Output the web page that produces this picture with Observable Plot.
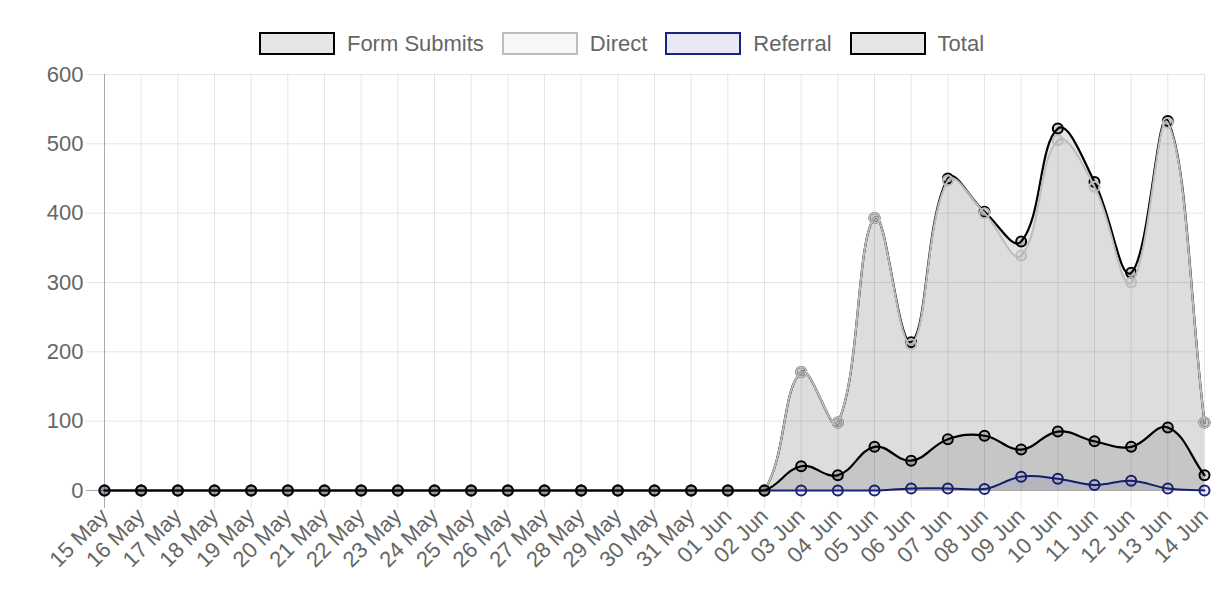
<!DOCTYPE html>
<html><head><meta charset="utf-8">
<script src="https://cdn.jsdelivr.net/npm/d3@7"></script>
<script src="https://cdn.jsdelivr.net/npm/@observablehq/plot@0.6"></script>
<style>
body{margin:0;background:#fff;font-family:"Liberation Sans",Arial,sans-serif;}
#legend{height:60px;display:flex;justify-content:center;align-items:flex-start;padding-left:32px;box-sizing:border-box;padding-top:32px;}
.item{display:flex;align-items:center;margin-right:18px;color:#666;font-size:22px;line-height:23px;white-space:nowrap}
.box{width:76px;height:23px;box-sizing:border-box;border:2px solid;margin-right:12px}
#chart svg{display:block}
</style></head><body>
<div id="legend"></div><div id="chart"></div>
<script>
const dates = ["15 May","16 May","17 May","18 May","19 May","20 May","21 May","22 May","23 May","24 May","25 May","26 May","27 May","28 May","29 May","30 May","31 May","01 Jun","02 Jun","03 Jun","04 Jun","05 Jun","06 Jun","07 Jun","08 Jun","09 Jun","10 Jun","11 Jun","12 Jun","13 Jun","14 Jun"];
const formSubmits = [0,0,0,0,0,0,0,0,0,0,0,0,0,0,0,0,0,0,0,35,22,63,43,74,79,59,85,71,63,91,22];
const direct      = [0,0,0,0,0,0,0,0,0,0,0,0,0,0,0,0,0,0,0,171,98,393,211,447,400,339,505,438,300,530,98];
const referral    = [0,0,0,0,0,0,0,0,0,0,0,0,0,0,0,0,0,0,0,0,0,0,3,3,2,20,17,8,14,3,0];
const total       = [0,0,0,0,0,0,0,0,0,0,0,0,0,0,0,0,0,0,0,171,98,393,214,450,402,359,522,445,314,533,98];
const seriesNames = ["Form Submits","Direct","Referral","Total"];
const borderColors = ["#000000","#bdbdbd","#1a237e","#000000"];
const fillColors = ["rgba(0,0,0,0.1)","rgba(0,0,0,0.03)","rgba(26,35,126,0.1)","rgba(0,0,0,0.1)"];
const pointFills = ["rgba(0,0,0,0.18)","rgba(0,0,0,0.03)","rgba(26,35,126,0.06)","rgba(0,0,0,0.18)"];
const lineWidths = [2.2, 2, 2, 2.2];
const yTicks = [0,100,200,300,400,500,600];

const seriesValues = [formSubmits, direct, referral, total];

// legend
const legend = document.getElementById("legend");
seriesNames.forEach((name, i) => {
  const item = document.createElement("div");
  item.className = "item";
  const box = document.createElement("div");
  box.className = "box";
  box.style.borderColor = borderColors[i];
  box.style.background = fillColors[i];
  const label = document.createElement("span");
  label.textContent = name;
  item.appendChild(box); item.appendChild(label);
  legend.appendChild(item);
});

const W = 1229, H = 533;
const mL = 104, mR = 25, mT = 14, mB = 103;

// Chart.js-like spline (tension 0.4, control points capped to chart area)
const tension = 0.4;
function chartjsCurve(context) {
  let pts = [];
  return {
    _line: NaN,
    areaStart() { this._line = 0; },
    areaEnd() { this._line = NaN; },
    lineStart() { pts = []; },
    point(x, y) { pts.push([+x, +y]); },
    lineEnd() {
      const n = pts.length;
      if (n) {
        const cap = (p) => [Math.max(mL, Math.min(W - mR, p[0])), Math.max(mT, Math.min(H - mB, p[1]))];
        const cps = pts.map((p, i) => {
          const prev = pts[Math.max(0, i - 1)], next = pts[Math.min(n - 1, i + 1)];
          const d01 = Math.hypot(p[0] - prev[0], p[1] - prev[1]);
          const d12 = Math.hypot(next[0] - p[0], next[1] - p[1]);
          let s01 = d01 / (d01 + d12), s12 = d12 / (d01 + d12);
          if (!isFinite(s01)) s01 = 0;
          if (!isFinite(s12)) s12 = 0;
          const fa = tension * s01, fb = tension * s12;
          return {
            a: cap([p[0] - fa * (next[0] - prev[0]), p[1] - fa * (next[1] - prev[1])]),
            b: cap([p[0] + fb * (next[0] - prev[0]), p[1] + fb * (next[1] - prev[1])])
          };
        });
        if (this._line) context.lineTo(pts[0][0], pts[0][1]);
        else context.moveTo(pts[0][0], pts[0][1]);
        for (let i = 1; i < n; i++) {
          const c1 = cps[i - 1].b, c2 = cps[i].a;
          context.bezierCurveTo(c1[0], c1[1], c2[0], c2[1], pts[i][0], pts[i][1]);
        }
      }
      if (this._line || (this._line !== 0 && n === 1)) context.closePath();
      this._line = 1 - this._line;
    }
  };
}

const rows = seriesNames.map((name, i) => dates.map((d, j) => ({date: d, value: seriesValues[i][j], series: name})));

const seriesMarks = [];
// Chart.js draws datasets in reverse order: last dataset at the bottom
for (let i = seriesNames.length - 1; i >= 0; i--) {
  seriesMarks.push(Plot.areaY(rows[i], {x: "date", y: "value", fill: fillColors[i], curve: chartjsCurve}));
  seriesMarks.push(Plot.lineY(rows[i], {x: "date", y: "value", stroke: borderColors[i], strokeWidth: lineWidths[i], curve: chartjsCurve}));
  seriesMarks.push(Plot.dot(rows[i], {x: "date", y: "value", r: 5, stroke: borderColors[i], strokeWidth: 2, fill: pointFills[i]}));
}

const chart = Plot.plot({
  width: W, height: H,
  marginLeft: mL, marginRight: mR, marginTop: mT, marginBottom: mB,
  style: {fontFamily: '"Liberation Sans", Arial, sans-serif', background: "#fff", color: "#666", overflow: "visible"},
  x: {type: "point", domain: dates, range: [mL, W - mR], padding: 0, align: 0.5, round: false},
  y: {domain: [0, 600], range: [H - mB, mT]},
  marks: [
    Plot.gridX(dates, {stroke: "#000", strokeOpacity: 0.1, insetBottom: -18}),
    Plot.gridY(yTicks, {stroke: "#000", strokeOpacity: 0.1, insetLeft: -18}),
    Plot.ruleX([dates[0]], {stroke: "#000", strokeOpacity: 0.25, insetBottom: -18}),
    Plot.ruleY([0], {stroke: "#000", strokeOpacity: 0.25, insetLeft: -18}),
    Plot.axisY({ticks: yTicks, tickSize: 0, tickPadding: 21, fontSize: 22, fill: "#666", label: null}),
    Plot.axisX({ticks: dates, tickSize: 0, tickPadding: 22, tickRotate: -45, fontSize: 22, fill: "#666", label: null}),
    ...seriesMarks
  ]
});
document.getElementById("chart").appendChild(chart);
</script>
</body></html>
